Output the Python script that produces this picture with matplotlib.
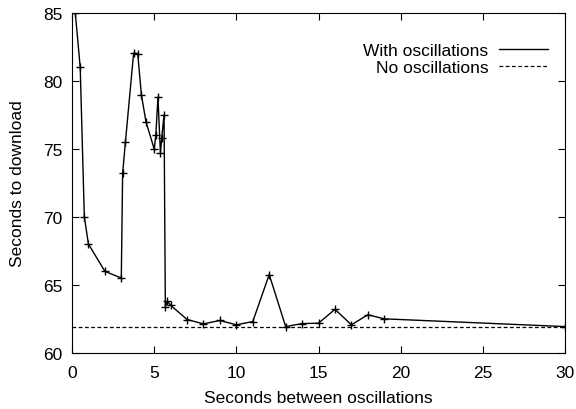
import numpy as np
import matplotlib.pyplot as plt

plt.rcParams['font.family'] = ['Liberation Sans', 'DejaVu Sans']

# measured download time vs. interval between oscillations
seconds = [0.2, 0.5, 0.75, 1, 2, 3, 3.08, 3.25, 3.75, 4, 4.22, 4.5, 5, 5.1, 5.23,
           5.38, 5.46, 5.6, 5.68, 5.8, 6, 7, 8, 9, 10, 11, 12, 13, 14, 15, 16, 17,
           18, 19, 30]
with_osc = [85, 81, 70, 68, 66, 65.5, 73.2, 75.5, 82.05, 82, 79, 77, 75, 76, 78.8,
            74.7, 75.8, 77.5, 63.4, 63.8, 63.5, 62.45, 62.13, 62.38, 62.06, 62.3,
            65.76, 61.93, 62.15, 62.18, 63.2, 62.06, 62.8, 62.5, 61.93]
no_osc = 61.93

fs = 12.5
fig = plt.figure(figsize=(5.76, 4.10), dpi=100)
ax = fig.add_axes([0.125, 0.137, 0.856, 0.829])

ax.plot(seconds, with_osc, color='black', lw=1, marker='+', ms=6, mew=1,
        label='With oscillations')
ax.axhline(no_osc, color='black', lw=0.9, ls=(0, (3, 2)), label='No oscillations')

ax.set_xlim(0, 30)
ax.set_ylim(60, 85)
ax.set_xticks(np.arange(0, 31, 5))
ax.set_yticks(np.arange(60, 86, 5))
ax.tick_params(direction='in', top=True, right=True, length=5, labelsize=fs)
ax.tick_params(axis='x', pad=9)
ax.tick_params(axis='y', pad=7)
ax.set_xlabel('Seconds between oscillations', fontsize=fs, va='center')
ax.set_ylabel('Seconds to download', fontsize=fs, va='center')
ax.xaxis.set_label_coords(0.5, -0.132)
ax.yaxis.set_label_coords(-0.11, 0.5)

leg = ax.legend(loc='upper right', frameon=False, fontsize=fs, markerfirst=False,
                handlelength=2.8, handletextpad=0.65, labelspacing=0.1,
                borderpad=0, borderaxespad=0, bbox_to_anchor=(0.9655, 0.912))
for h in leg.legend_handles:
    h.set_marker('')
for t in leg.get_texts():
    t.set_ha('right')

fig.savefig('out.png', dpi=100)
